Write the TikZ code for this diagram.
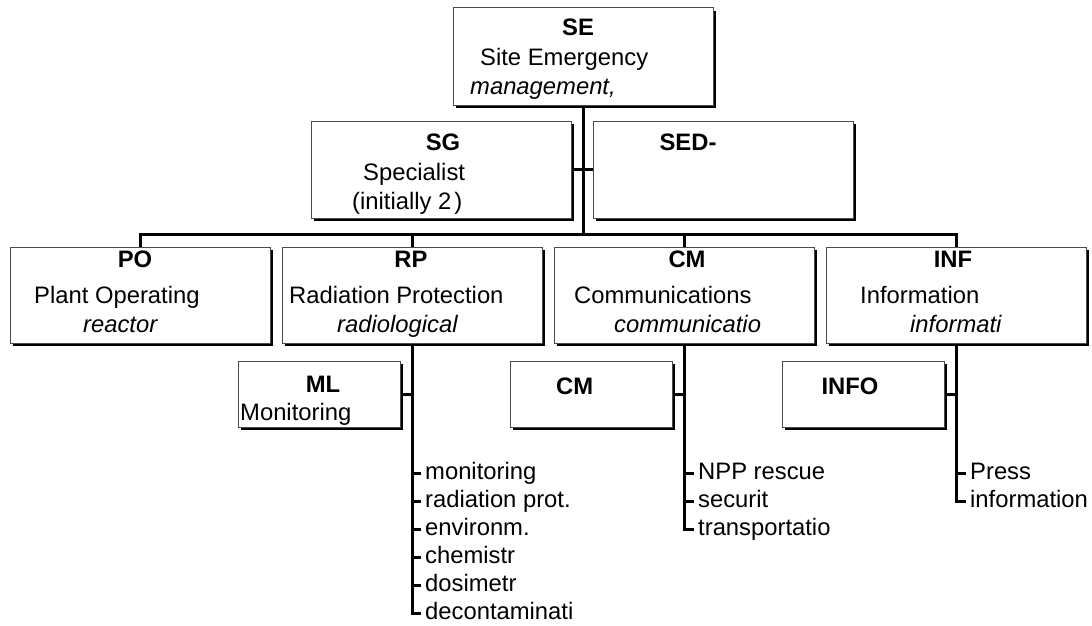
\documentclass[tikz,border=0pt]{standalone}
\usepackage{fontspec}
\setmainfont{Liberation Sans}
\usetikzlibrary{shadows}
\begin{document}
\begin{tikzpicture}[x=1pt,y=-1pt,
  every node/.style={font=\fontsize{23.8}{29}\selectfont, inner sep=0pt},
  box/.style={draw=black!70, line width=1pt, fill=white,
    drop shadow={shadow xshift=3pt, shadow yshift=-3pt, opacity=1, fill=black}},
  bigbox/.style={box, minimum width=260pt, minimum height=97pt},
  lowbox/.style={box, minimum width=260pt, minimum height=96pt},
  subbox/.style={box, minimum width=162pt, minimum height=66pt},
  hd/.style={font=\fontsize{23.8}{29}\selectfont\bfseries, anchor=base},
  tx/.style={anchor=base west},
  it/.style={anchor=base west, font=\fontsize{23.8}{29}\selectfont\itshape},
  item/.style={anchor=west, inner xsep=3pt, text height=17pt, text depth=5pt},
  conn/.style={line width=3pt}]
\useasboundingbox (0,0) rectangle (1092,626);

% boxes
\node[bigbox] (SE)  at (583,56.5) {};
\node[bigbox] (SG)  at (441,169.5) {};
\node[bigbox] (SED) at (723,169.5) {};
\node[lowbox] (PO)  at (140,295) {};
\node[lowbox] (RP)  at (412,295) {};
\node[lowbox] (CM)  at (684,295) {};
\node[lowbox] (INF) at (956,295) {};
\node[subbox] (ML)   at (319,394) {};
\node[subbox] (CMs)  at (591,394) {};
\node[subbox] (INFO) at (863,394) {};

% texts
\node[hd] (tSE) at (578,36) {SE};
\node[tx] (tSE2) at (480,66) {Site Emergency};
\node[it] (tSE3) at (470,95) {management,};
\node[hd] (tSG) at (443,150) {SG};
\node[tx] (tSG2) at (363,180) {Specialist};
\node[tx] (tSG3) at (352,209) {(initially 2\kern3pt)};
\node[hd] (tSED) at (688,150) {SED-};
\node[hd] (tPO) at (135,267) {PO};
\node[tx] (tPO2) at (34,303) {Plant Operating};
\node[it] (tPO3) at (83,332) {reactor};
\node[hd] (tRP) at (411,267) {RP};
\node[tx] (tRP2) at (289,303) {Radiation Protection};
\node[it] (tRP3) at (337,332) {radiological};
\node[hd] (tCM) at (687,267) {CM};
\node[tx] (tCM2) at (574,303) {Communications};
\node[it] (tCM3) at (614,332) {communicatio};
\node[hd] (tINF) at (953,267) {INF};
\node[tx] (tINF2) at (860,303) {Information};
\node[it] (tINF3) at (910,332) {informati};
\node[hd] (tML) at (323,392) {ML};
\node[tx] (tML2) at (240,420) {Monitoring};
\node[hd, anchor=base west] (tCMs) at (556,394) {CM};
\node[hd] (tINFO) at (850,394) {INFO};

% list items
\node[item] (r1) at (422,473) {monitoring};
\node[item] (r2) at (422,501) {radiation prot.};
\node[item] (r3) at (422,529) {environm.};
\node[item] (r4) at (422,557) {chemistr};
\node[item] (r5) at (422,585) {dosimetr};
\node[item] (r6) at (422,613) {decontaminati};
\node[item] (c1) at (695,473) {NPP rescue};
\node[item] (c2) at (695,501) {securit};
\node[item] (c3) at (695,529) {transportatio};
\node[item] (i1) at (967,473) {Press};
\node[item] (i2) at (967,501) {information};

% connectors
\coordinate (bus) at (583,234);
\draw[conn] (SE.south) -- (SE.south |- bus);
\draw[conn] (SG.east) -- (SED.west);
\draw[conn] (PO.north) |- (bus) -| (INF.north);
\draw[conn] (RP.north) -- (RP.north |- bus);
\draw[conn] (CM.north) -- (CM.north |- bus);

\draw[conn] (RP.south) |- ([xshift=-1pt]r6.west);
\foreach \n in {r1,r2,r3,r4,r5}
  \draw[conn] (RP.south |- \n.west) -- ([xshift=-1pt]\n.west);
\draw[conn] (ML.east) -- (ML.east -| RP.south);

\draw[conn] (CM.south) |- ([xshift=-1pt]c3.west);
\foreach \n in {c1,c2}
  \draw[conn] (CM.south |- \n.west) -- ([xshift=-1pt]\n.west);
\draw[conn] (CMs.east) -- (CMs.east -| CM.south);

\draw[conn] (INF.south) |- ([xshift=-1pt]i2.west);
\draw[conn] (INF.south |- i1.west) -- ([xshift=-1pt]i1.west);
\draw[conn] (INFO.east) -- (INFO.east -| INF.south);
\end{tikzpicture}
\end{document}
